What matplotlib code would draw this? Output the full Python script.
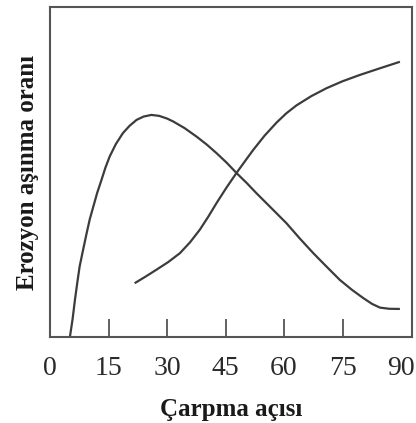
import matplotlib

matplotlib.use("Agg")
import matplotlib.pyplot as plt

# Erosion wear rate vs impact angle: ductile curve peaks at low angle,
# brittle curve climbs towards normal incidence. Y is in arbitrary units.
ductile_angle = [5.1, 5.8, 6.4, 7.0, 7.6, 8.5, 9.4, 10.2, 11.1, 12.1, 13.2,
                 14.2, 15.3, 16.9, 18.7, 20.4, 22.2, 24.0, 26.0, 28.0, 30.0,
                 31.6, 34.5, 37.6, 40.2, 42.7, 45.3, 47.8, 50.4, 52.9, 56.8,
                 60.6, 64.0, 67.5, 71.0, 74.3, 77.4, 80.3, 82.6, 84.6, 87.0,
                 89.7]
ductile_rate = [0.0, 5.5, 11.3, 16.5, 21.4, 26.5, 31.5, 35.7, 39.5, 43.7, 47.6,
                51.3, 54.7, 58.5, 61.8, 64.0, 65.8, 66.8, 67.3, 67.0, 66.2,
                65.3, 63.3, 60.7, 58.3, 55.7, 52.8, 49.7, 46.7, 43.6, 39.0,
                34.5, 29.9, 25.4, 21.2, 17.3, 14.3, 11.8, 10.0, 8.9, 8.55,
                8.5]

brittle_angle = [21.7, 24.5, 27.3, 30.3, 33.3, 35.9, 38.4, 40.6, 42.7, 45.2,
                 47.8, 50.0, 52.1, 55.0, 58.1, 60.6, 63.2, 67.0, 70.9, 75.0,
                 79.4, 84.5, 89.7]
brittle_rate = [16.3, 18.3, 20.4, 22.7, 25.4, 28.7, 32.5, 36.5, 40.6, 45.2,
                49.7, 53.3, 56.7, 61.0, 65.0, 67.8, 70.2, 73.0, 75.4, 77.5,
                79.4, 81.4, 83.4]

tick_values = [0, 15, 30, 45, 60, 75, 90]
tick_labels = ["0", "15", "30", "45", "60", "75", "90"]

LINE = "#3c3c3c"
SERIF = ["Liberation Serif", "DejaVu Serif"]

fig = plt.figure(figsize=(4.16, 4.23), dpi=100)
ax = fig.add_axes([50 / 416, 86 / 423, 362 / 416, 330 / 423])

ax.plot(ductile_angle, ductile_rate, color=LINE, lw=1.6,
        solid_capstyle="butt", solid_joinstyle="round")
ax.plot(brittle_angle, brittle_rate, color=LINE, lw=1.6,
        solid_capstyle="butt", solid_joinstyle="round")

ax.set_xlim(0, 92.8)
ax.set_ylim(0, 100)

for side in ax.spines.values():
    side.set_color("#555555")
    side.set_linewidth(1.5)

ax.set_yticks([])
ax.set_xticks(tick_values)
ax.set_xticklabels(tick_labels, family=SERIF, fontsize=20)
ax.tick_params(axis="x", direction="in", length=13, width=1.3,
               color="#555555", pad=14, labelcolor="#2a2a2a")
# the end labels sit under the spines, without a tick of their own
for tick in (ax.xaxis.get_major_ticks()[0], ax.xaxis.get_major_ticks()[-1]):
    tick.tick1line.set_visible(False)

ax.set_xlabel("Çarpma açısı", family=SERIF, fontsize=18, fontweight="bold",
              labelpad=12, color="#1a1a1a")
ax.set_ylabel("Erozyon aşınma oranı", family=SERIF, fontsize=18,
              fontweight="bold", labelpad=8, color="#1a1a1a")

fig.savefig("out.png", dpi=100)
